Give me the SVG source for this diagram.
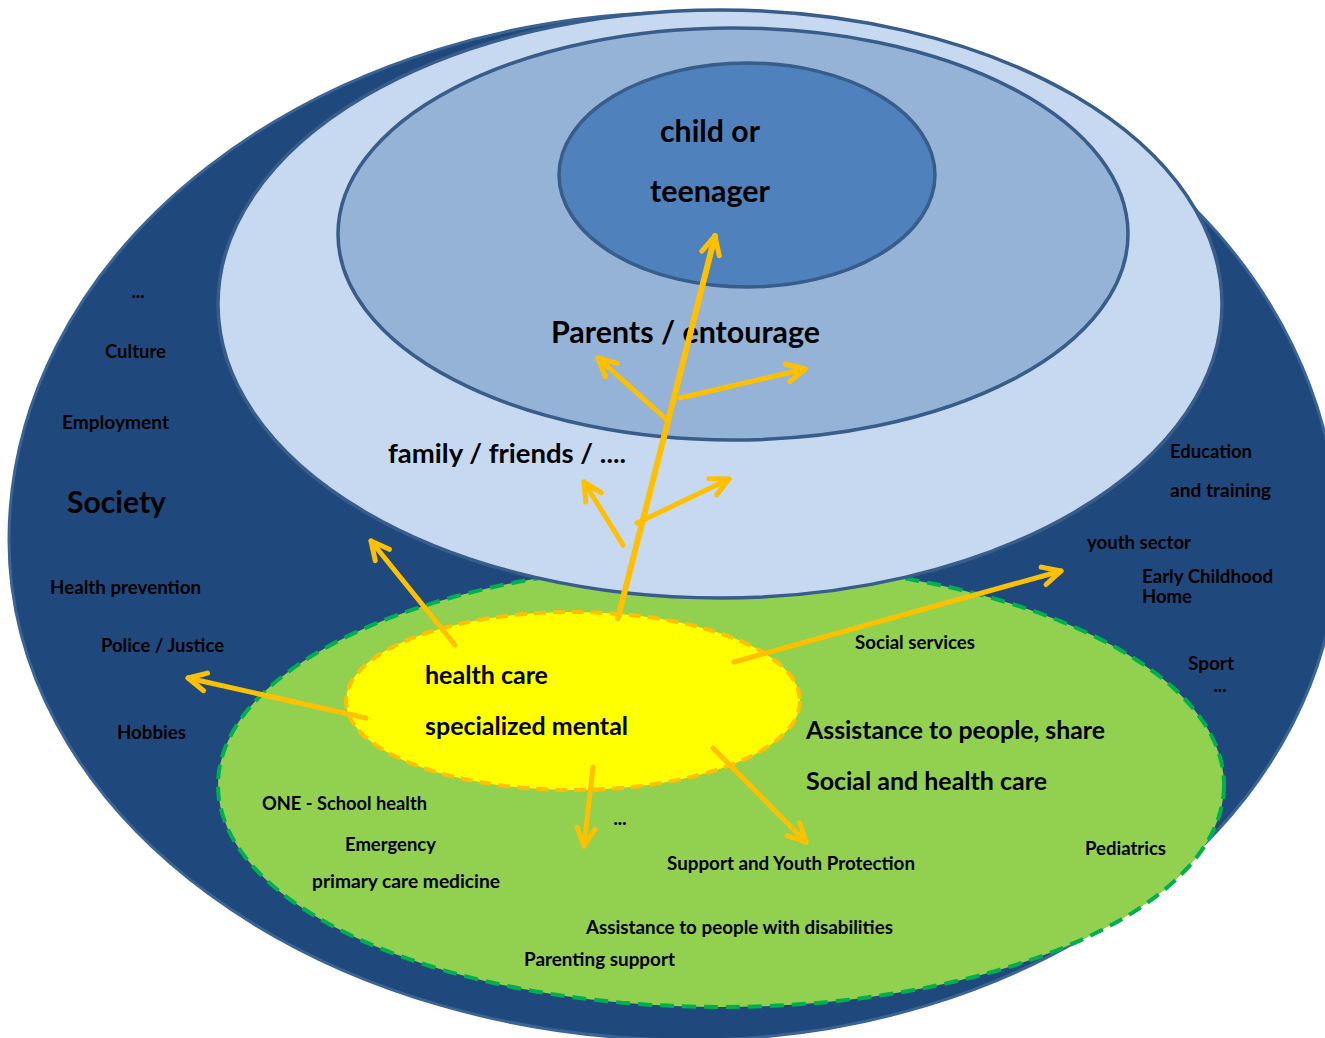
<svg xmlns="http://www.w3.org/2000/svg" width="1325" height="1038" viewBox="0 0 1325 1038">
<defs>
<style>
text{font-family:Lato,"Liberation Sans",sans-serif;font-weight:700;fill:#000}
.s{font-size:18px}
.d{font-size:18px;font-weight:900}
.m{font-size:25px}
.l{font-size:30px}
.ring{stroke:#385d8a;stroke-width:3.5}
.con line{stroke:#ffc000;stroke-width:5;stroke-linecap:round;marker-end:url(#ah)}
</style>
<marker id="ah" viewBox="-24 -14 28 28" refX="0" refY="0" markerWidth="28" markerHeight="28" markerUnits="userSpaceOnUse" orient="auto">
<path d="M-18,-9 L0,0 L-18,9" fill="none" stroke="#ffc000" stroke-width="5" stroke-linecap="round" stroke-linejoin="round"/>
</marker>
</defs>
<rect width="1325" height="1038" fill="#fff"/>

<g id="society">
<path d="M 9 540 A 681 528 0 0 1 690 12 A 648 528 0 0 1 1338 540 A 648 500 0 0 1 690 1040 A 681 500 0 0 1 9 540 Z" fill="#1f497d" stroke="#3a6396" stroke-width="3"/>
<text class="d" x="138" y="298" text-anchor="middle">...</text>
<text class="s" x="105" y="358" textLength="61" lengthAdjust="spacingAndGlyphs">Culture</text>
<text class="s" x="62" y="429" textLength="107" lengthAdjust="spacingAndGlyphs">Employment</text>
<text class="l" x="67" y="513" textLength="99" lengthAdjust="spacingAndGlyphs">Society</text>
<text class="s" x="50" y="594" textLength="151" lengthAdjust="spacingAndGlyphs">Health prevention</text>
<text class="s" x="101" y="652" textLength="123" lengthAdjust="spacingAndGlyphs">Police / Justice</text>
<text class="s" x="117" y="739" textLength="69" lengthAdjust="spacingAndGlyphs">Hobbies</text>
<text class="s" x="1170" y="458" textLength="82" lengthAdjust="spacingAndGlyphs">Education</text>
<text class="s" x="1170" y="497" textLength="101" lengthAdjust="spacingAndGlyphs">and training</text>
<text class="s" x="1087" y="549" textLength="104" lengthAdjust="spacingAndGlyphs">youth sector</text>
<text class="s" x="1142" y="583" textLength="131" lengthAdjust="spacingAndGlyphs">Early Childhood</text>
<text class="s" x="1142" y="603" textLength="50" lengthAdjust="spacingAndGlyphs">Home</text>
<text class="s" x="1188" y="670" textLength="46" lengthAdjust="spacingAndGlyphs">Sport</text>
<text class="d" x="1220" y="692" text-anchor="middle">...</text>
</g>

<g id="social-health-care">
<ellipse cx="721" cy="785" rx="503" ry="222" fill="#92d050" stroke="#00b050" stroke-width="4" stroke-dasharray="14 8"/>
<text class="s" x="855" y="649" textLength="120" lengthAdjust="spacingAndGlyphs">Social services</text>
<text class="m" x="806" y="739" textLength="299" lengthAdjust="spacingAndGlyphs">Assistance to people, share</text>
<text class="m" x="806" y="790" textLength="241" lengthAdjust="spacingAndGlyphs">Social and health care</text>
<text class="s" x="262" y="810" textLength="165" lengthAdjust="spacingAndGlyphs">ONE - School health</text>
<text class="s" x="345" y="851" textLength="91" lengthAdjust="spacingAndGlyphs">Emergency</text>
<text class="s" x="312" y="888" textLength="188" lengthAdjust="spacingAndGlyphs">primary care medicine</text>
<text class="d" x="620" y="825" text-anchor="middle">...</text>
<text class="s" x="667" y="870" textLength="248" lengthAdjust="spacingAndGlyphs">Support and Youth Protection</text>
<text class="s" x="1085" y="855" textLength="81" lengthAdjust="spacingAndGlyphs">Pediatrics</text>
<text class="s" x="586" y="934" textLength="307" lengthAdjust="spacingAndGlyphs">Assistance to people with disabilities</text>
<text class="s" x="524" y="966" textLength="151" lengthAdjust="spacingAndGlyphs">Parenting support</text>
</g>

<g id="family-friends">
<ellipse class="ring" cx="720" cy="304" rx="502" ry="294" fill="#c6d9f1"/>
<text x="388" y="463" font-size="27" textLength="238" lengthAdjust="spacingAndGlyphs">family / friends / ....</text>
</g>

<g id="parents">
<ellipse class="ring" cx="733" cy="234" rx="395" ry="206" fill="#95b3d7"/>
<text class="l" x="551" y="343" textLength="269" lengthAdjust="spacingAndGlyphs">Parents / entourage</text>
</g>

<g id="child">
<ellipse class="ring" cx="747" cy="175" rx="188" ry="112" fill="#4f81bd"/>
<text class="l" x="660" y="142" textLength="100" lengthAdjust="spacingAndGlyphs">child or</text>
<text class="l" x="650" y="202" textLength="120" lengthAdjust="spacingAndGlyphs">teenager</text>
</g>

<g id="mental-health-care">
<ellipse cx="573" cy="701" rx="227" ry="89" fill="#ffff00" stroke="#ffc000" stroke-width="4" stroke-dasharray="12 7"/>
<text class="m" x="425" y="684" textLength="123" lengthAdjust="spacingAndGlyphs">health care</text>
<text class="m" x="425" y="735" textLength="203" lengthAdjust="spacingAndGlyphs">specialized mental</text>
</g>

<g id="connectors" class="con">
<line x1="618" y1="618" x2="715" y2="236" style="stroke-width:6"/>
<line x1="667" y1="420" x2="598" y2="358"/>
<line x1="680" y1="398" x2="805" y2="369"/>
<line x1="623" y1="545" x2="584" y2="482"/>
<line x1="637" y1="523" x2="729" y2="479"/>
<line x1="455" y1="645" x2="371" y2="541"/>
<line x1="366" y1="718" x2="188" y2="678"/>
<line x1="734" y1="662" x2="1061" y2="571"/>
<line x1="593" y1="767" x2="584" y2="846"/>
<line x1="713" y1="748" x2="806" y2="842"/>
</g>
</svg>
